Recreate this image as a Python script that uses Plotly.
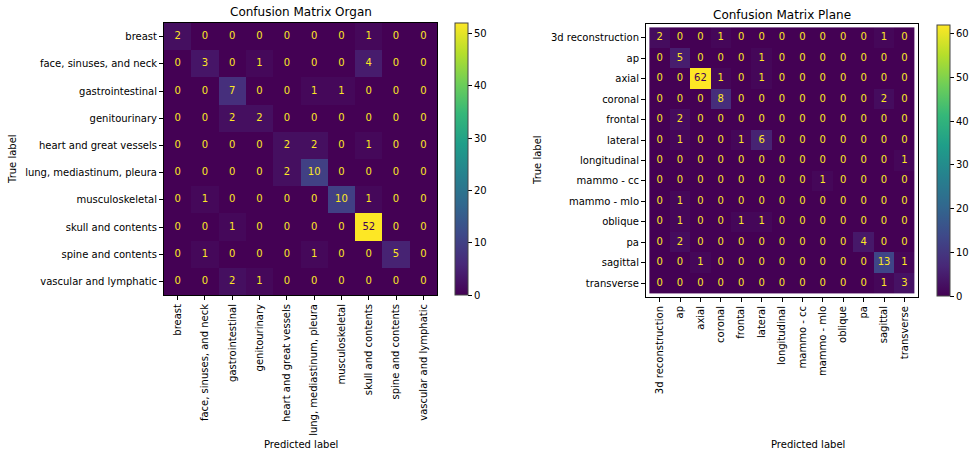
import plotly.graph_objects as go

# ---- data -----------------------------------------------------------------
organ_labels = [
    "breast", "face, sinuses, and neck", "gastrointestinal", "genitourinary",
    "heart and great vessels", "lung, mediastinum, pleura", "musculoskeletal",
    "skull and contents", "spine and contents", "vascular and lymphatic",
]
organ_counts = [
    [2, 0, 0, 0, 0, 0, 0, 1, 0, 0],
    [0, 3, 0, 1, 0, 0, 0, 4, 0, 0],
    [0, 0, 7, 0, 0, 1, 1, 0, 0, 0],
    [0, 0, 2, 2, 0, 0, 0, 0, 0, 0],
    [0, 0, 0, 0, 2, 2, 0, 1, 0, 0],
    [0, 0, 0, 0, 2, 10, 0, 0, 0, 0],
    [0, 1, 0, 0, 0, 0, 10, 1, 0, 0],
    [0, 0, 1, 0, 0, 0, 0, 52, 0, 0],
    [0, 1, 0, 0, 0, 1, 0, 0, 5, 0],
    [0, 0, 2, 1, 0, 0, 0, 0, 0, 0],
]

plane_labels = [
    "3d reconstruction", "ap", "axial", "coronal", "frontal", "lateral",
    "longitudinal", "mammo - cc", "mammo - mlo", "oblique", "pa", "sagittal",
    "transverse",
]
plane_counts = [
    [2, 0, 0, 1, 0, 0, 0, 0, 0, 0, 0, 1, 0],
    [0, 5, 0, 0, 0, 1, 0, 0, 0, 0, 0, 0, 0],
    [0, 0, 62, 1, 0, 1, 0, 0, 0, 0, 0, 0, 0],
    [0, 0, 0, 8, 0, 0, 0, 0, 0, 0, 0, 2, 0],
    [0, 2, 0, 0, 0, 0, 0, 0, 0, 0, 0, 0, 0],
    [0, 1, 0, 0, 1, 6, 0, 0, 0, 0, 0, 0, 0],
    [0, 0, 0, 0, 0, 0, 0, 0, 0, 0, 0, 0, 1],
    [0, 0, 0, 0, 0, 0, 0, 0, 1, 0, 0, 0, 0],
    [0, 1, 0, 0, 0, 0, 0, 0, 0, 0, 0, 0, 0],
    [0, 1, 0, 0, 1, 1, 0, 0, 0, 0, 0, 0, 0],
    [0, 2, 0, 0, 0, 0, 0, 0, 0, 0, 4, 0, 0],
    [0, 0, 1, 0, 0, 0, 0, 0, 0, 0, 0, 13, 1],
    [0, 0, 0, 0, 0, 0, 0, 0, 0, 0, 0, 1, 3],
]

# ---- layout constants ------------------------------------------------------
W, H = 976, 453
FONT = "DejaVu Sans"
VIRIDIS_LOW, VIRIDIS_HIGH = "#440154", "#fde725"


def px_x(v):
    return v / W


def px_y(v):
    return 1 - v / H


fig = go.Figure()


def add_matrix(labels, counts, xa, ya, cb_left, cb_top, cb_bottom):
    zmax = max(max(r) for r in counts)
    fig.add_trace(go.Heatmap(
        z=counts, x=labels, y=labels, xaxis=xa, yaxis=ya,
        colorscale="Viridis", zmin=0, zmax=zmax,
        colorbar=dict(
            x=px_x(cb_left), xanchor="left", xref="paper",
            y=px_y((cb_top + cb_bottom) / 2), yanchor="middle", yref="paper",
            lenmode="pixels", len=cb_bottom - cb_top,
            thicknessmode="pixels", thickness=13,
            xpad=0, ypad=0,
            outlinewidth=1, outlinecolor="#444",
            ticks="outside", ticklen=4, tickwidth=1, tickcolor="#000",
            dtick=10, tickfont=dict(family=FONT, size=10, color="#000"),
        ),
        showscale=True, hoverongaps=False,
    ))
    # cell counts: dark text on bright cells, bright text elsewhere
    threshold = zmax / 2
    xs, ys, ts, cs = [], [], [], []
    for i, row in enumerate(counts):
        for j, v in enumerate(row):
            xs.append(labels[j])
            ys.append(labels[i])
            ts.append(str(v))
            cs.append(VIRIDIS_LOW if v > threshold else VIRIDIS_HIGH)
    fig.add_trace(go.Scatter(
        x=xs, y=ys, text=ts, mode="text", xaxis=xa, yaxis=ya,
        textfont=dict(family=FONT, size=10, color=cs),
        showlegend=False, hoverinfo="skip",
    ))


add_matrix(organ_labels, organ_counts, "x", "y", 455, 23, 295)
add_matrix(plane_labels, plane_counts, "x2", "y2", 937, 25, 296)

axis_common = dict(
    showline=True, mirror=True, linecolor="#000", linewidth=1,
    ticks="outside", ticklen=4, tickwidth=1, tickcolor="#000",
    showgrid=False, zeroline=False,
    tickfont=dict(family=FONT, size=10, color="#000"),
)

fig.update_layout(
    width=W, height=H,
    margin=dict(l=0, r=0, t=0, b=0),
    paper_bgcolor="white", plot_bgcolor="white",
    showlegend=False,
    font=dict(family=FONT, size=10, color="#000"),
    xaxis=dict(domain=[px_x(164), px_x(437)], tickangle=-90, anchor="y",
               **axis_common),
    yaxis=dict(domain=[px_y(295), px_y(23)], autorange="reversed", anchor="x",
               **axis_common),
    xaxis2=dict(domain=[px_x(646), px_x(918)], tickangle=-90, anchor="y2",
                **axis_common),
    yaxis2=dict(domain=[px_y(297), px_y(24)], autorange="reversed", anchor="x2",
                **axis_common),
)

# titles and axis labels
texts = [
    ("Confusion Matrix Organ", 300.5, 12, 12, 0),
    ("Confusion Matrix Plane", 782, 15, 12, 0),
    ("True label", 12, 159, 10, -90),
    ("True label", 537, 160, 10, -90),
    ("Predicted label", 300.5, 444, 10, 0),
    ("Predicted label", 808, 444, 10, 0),
]
for txt, cx, cy, size, ang in texts:
    fig.add_annotation(
        text=txt, x=px_x(cx), y=px_y(cy), xref="paper", yref="paper",
        xanchor="center", yanchor="middle", showarrow=False, textangle=ang,
        font=dict(family=FONT, size=size, color="#000"),
    )

fig.write_html("out.html")
